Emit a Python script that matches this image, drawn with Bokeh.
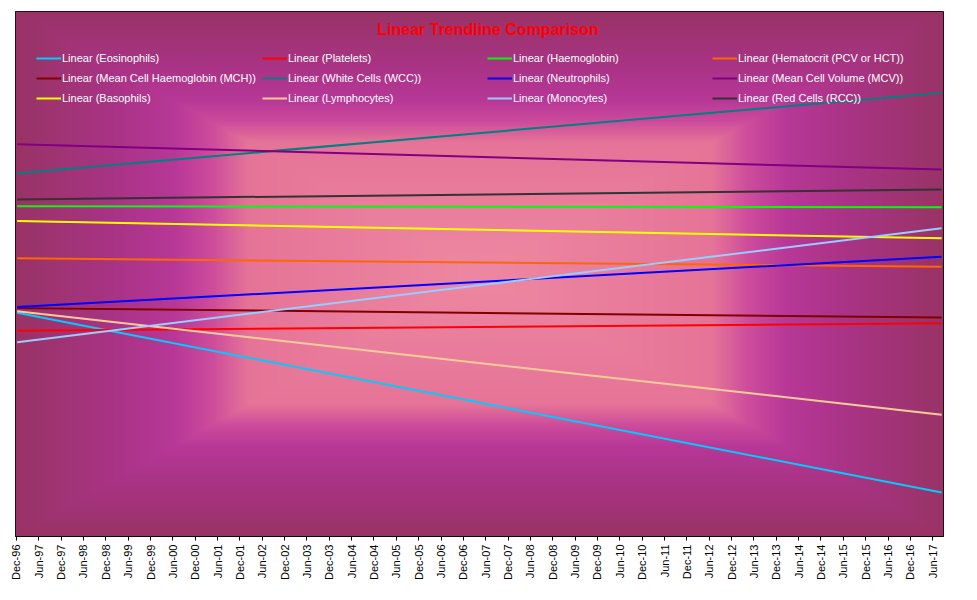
import math
import numpy as np
from bokeh.plotting import figure
from bokeh.models import Range1d, FixedTicker, Legend, LegendItem, Label
from bokeh.embed import file_html
from bokeh.resources import INLINE

# ---------------- data ----------------
# x values are months since Dec-96; y values on a 0-100 scale (hidden axis)
tick_labels = ["Dec-96", "Jun-97", "Dec-97", "Jun-98", "Dec-98", "Jun-99", "Dec-99",
               "Jun-00", "Dec-00", "Jun-01", "Dec-01", "Jun-02", "Dec-02", "Jun-03",
               "Dec-03", "Jun-04", "Dec-04", "Jun-05", "Dec-05", "Jun-06", "Dec-06",
               "Jun-07", "Dec-07", "Jun-08", "Dec-08", "Jun-09", "Dec-09", "Jun-10",
               "Dec-10", "Jun-11", "Dec-11", "Jun-12", "Dec-12", "Jun-13", "Dec-13",
               "Jun-14", "Dec-14", "Jun-15", "Dec-15", "Jun-16", "Dec-16", "Jun-17"]
tick_months = [6 * i for i in range(len(tick_labels))]

trend_x = [0.2, 248.4]   # start and end of the trendlines (months since Dec-96)

series = ["Eosinophils", "Platelets", "Haemoglobin", "Hematocrit (PCV or HCT)",
          "Mean Cell Haemoglobin (MCH)", "White Cells (WCC)", "Neutrophils",
          "Mean Cell Volume (MCV)", "Basophils", "Lymphocytes", "Monocytes",
          "Red Cells (RCC)"]
start_values = [42.6, 39.2, 62.9, 53.0, 43.5, 69.2, 43.7, 74.7, 60.1, 42.9, 37.0, 64.2]
end_values = [8.4, 40.6, 62.7, 51.4, 41.7, 84.5, 53.3, 69.9, 56.8, 23.2, 58.7, 66.1]
colors = ["#00CCFF", "#FF0000", "#00FF00", "#FF6600", "#800000", "#008080",
          "#0000FF", "#800080", "#FFFF00", "#FFCC99", "#99CCFF", "#333333"]

# ---------------- figure ----------------
X0, X1 = -0.25, 248.9
p = figure(width=977, height=600, output_backend="svg", toolbar_location=None,
           x_range=Range1d(X0, X1), y_range=Range1d(0, 100),
           min_border_left=15, min_border_right=34, min_border_top=11,
           min_border_bottom=64)
p.background_fill_color = "#993366"
p.border_fill_color = "white"
p.outline_line_color = "black"
p.outline_line_width = 1
p.xgrid.visible = False
p.ygrid.visible = False
p.yaxis.visible = False

# background gradient (style only)
W, H = 928, 525
xs = np.arange(W) + 0.5
ys = np.arange(H) + 0.5
dx = np.abs(xs - 465.0) / 464.0
dy = np.abs(ys - 262.0) / 262.0
d = np.maximum(dx[None, :], dy[:, None])
stops = [0.0, 0.5, 0.58, 0.66, 0.8, 1.0]
rs = [238, 230, 205, 184, 168, 153]
gs = [136, 116, 76, 56, 51, 51]
bs = [162, 152, 156, 152, 132, 102]
img = np.empty((H, W), dtype=np.uint32)
view = img.view(dtype=np.uint8).reshape((H, W, 4))
view[..., 0] = np.interp(d, stops, rs).astype(np.uint8)
view[..., 1] = np.interp(d, stops, gs).astype(np.uint8)
view[..., 2] = np.interp(d, stops, bs).astype(np.uint8)
view[..., 3] = 255
img = img[::-1]
p.image_rgba(image=[img], x=X0, y=0, dw=X1 - X0, dh=100)

renderers = []
for name, s, e, c in zip(series, start_values, end_values, colors):
    r = p.line(trend_x, [s, e], line_color=c, line_width=2)
    renderers.append((f"Linear ({name})", r))

# legends: 4 columns x 3 rows, row-major order
col_x = [21, 247, 472, 697]
for c in range(4):
    items = [LegendItem(label=renderers[c + 4 * r][0], renderers=[renderers[c + 4 * r][1]])
             for r in range(3)]
    lg = Legend(items=items, location=(col_x[c], 429), orientation="vertical",
                background_fill_alpha=0, border_line_alpha=0, padding=0, margin=0,
                label_text_color="white", label_text_font="Liberation Sans",
                label_text_font_size="11px", glyph_width=25, glyph_height=18,
                label_height=18, label_standoff=1, spacing=2)
    p.add_layout(lg, "center")

title = Label(x=126.6, y=96.6, text="Linear Trendline Comparison", text_align="center",
              text_baseline="alphabetic", text_color="#FF0000",
              text_font="Liberation Sans", text_font_style="bold", text_font_size="16px")
p.add_layout(title)

ax = p.xaxis[0]
ax.ticker = FixedTicker(ticks=tick_months, minor_ticks=[])
ax.major_label_overrides = {m: l for m, l in zip(tick_months, tick_labels)}
ax.major_label_orientation = math.pi / 2
ax.major_label_text_font = "Liberation Sans"
ax.major_label_text_font_size = "11px"
ax.major_label_text_color = "black"
ax.major_label_standoff = 4
ax.major_tick_in = 0
ax.major_tick_out = 4
ax.major_tick_line_color = "black"
ax.minor_tick_line_color = None
ax.axis_line_color = "black"

open("out.html", "w").write(file_html(p, INLINE))
